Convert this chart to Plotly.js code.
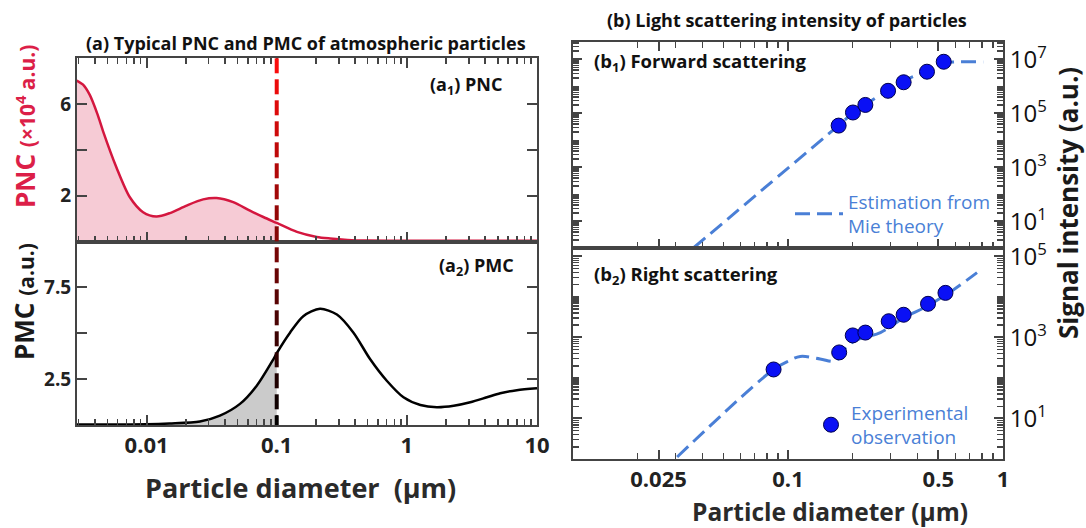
<!DOCTYPE html>
<html>
<head>
<meta charset="utf-8">
<script src="https://cdn.plot.ly/plotly-3.0.1.min.js"></script>
<style>html,body{margin:0;padding:0;background:#fff}#chart{width:1086px;height:528px}</style>
</head>
<body>
<div id="chart"></div>
<script>
// ---------- Data: (a) typical PNC and PMC ----------
const pncDiameter = [0.0029, 0.00325, 0.00366, 0.0042, 0.00464, 0.00588, 0.00744, 0.0094, 0.0119, 0.0151, 0.0203, 0.0272, 0.0345, 0.0463, 0.0623, 0.0789, 0.1, 0.143, 0.203, 0.257, 0.35, 0.5, 1, 2, 5, 10];
const pncValue    = [7.03, 6.85, 6.40, 5.55, 4.80, 3.22, 1.93, 1.28, 1.09, 1.24, 1.57, 1.84, 1.90, 1.72, 1.35, 1.07, 0.81, 0.42, 0.20, 0.13, 0.07, 0.04, 0.03, 0.03, 0.03, 0.03];
const pmcDiameter = [0.0029, 0.005, 0.01, 0.015, 0.0257, 0.0366, 0.0522, 0.0702, 0.0942, 0.1, 0.1265, 0.16, 0.215, 0.29, 0.389, 0.523, 0.701, 0.942, 1.27, 1.70, 2.29, 3.07, 4.12, 5.22, 7.0, 10];
const pmcValue    = [0.03, 0.03, 0.04, 0.08, 0.19, 0.51, 1.15, 2.14, 3.58, 3.91, 5.03, 5.93, 6.33, 6.02, 5.03, 3.58, 2.41, 1.51, 1.09, 0.97, 1.05, 1.24, 1.51, 1.73, 1.90, 2.00];
const cutoffDiameter = 0.1;

// ---------- Data: (b) light scattering intensity ----------
const mieFwdDiameter  = [0.0364, 0.1, 0.17, 0.2, 0.23, 0.29, 0.345, 0.44, 0.53, 0.6, 0.81];
const mieFwdIntensity = [1.05, 933, 3.3e4, 1.0e5, 2.14e5, 7.08e5, 1.58e6, 3.63e6, 7.08e6, 7.94e6, 7.94e6];
const obsFwdDiameter  = [0.172, 0.2005, 0.229, 0.292, 0.345, 0.443, 0.530];
const obsFwdIntensity = [3.5e4, 1.07e5, 2.04e5, 6.8e5, 1.41e6, 3.47e6, 8.1e6];
const mieRightDiameter  = [0.0305, 0.0857, 0.1007, 0.114, 0.141, 0.166, 0.188, 0.209, 0.269, 0.345, 0.443, 0.589, 0.757];
const mieRightIntensity = [1.12, 162, 263, 339, 295, 263, 603, 871, 1318, 3020, 5890, 1.51e4, 3.98e4];
const obsRightDiameter  = [0.0857, 0.173, 0.2, 0.229, 0.294, 0.345, 0.448, 0.540];
const obsRightIntensity = [162, 427, 1122, 1318, 2512, 3631, 6761, 12589];

// ---------- Tick labels ----------
const aTickVals = [0.01, 0.1, 1, 10];
const aTickText = ['0.01', '0.1', '1', '10'];
const bTickVals = [0.025, 0.1, 0.5, 1];
const bTickText = ['0.025', '0.1', '0.5', '1'];
const pncTickVals = [2, 6];
const pncTickText = ['2', '6'];
const pncMidTick = [4];
const pmcTickVals = [2.5, 7.5];
const pmcTickText = ['2.5', '7.5'];
const pmcMidTick = [5];
const sigTickVals1 = [10, 1e3, 1e5, 1e7];
const sigTickText1 = ['10<sup>1</sup>', '10<sup>3</sup>', '10<sup>5</sup>', '10<sup>7</sup>'];
const sigTickVals2 = [10, 1e3, 1e5];
const sigTickText2 = ['10<sup>1</sup>', '10<sup>3</sup>', '10<sup>5</sup>'];

// ---------- helpers ----------
function logMinor(e0, e1, skip) {
  const out = [];
  for (let e = e0; e <= e1; e++) for (let m = 1; m <= 9; m++) {
    const v = +(m * Math.pow(10, e)).toPrecision(6);
    if (!skip.some(s => Math.abs(s - v) / v < 1e-6)) out.push(v);
  }
  return out;
}
const FONT = '"Open Sans", Lato, "DejaVu Sans", sans-serif';
const AX = '#444444';
const blue = '#4a7fd6';
const keep = xs => xs.map(x => x <= cutoffDiameter + 1e-12);
const fillX = xs => xs.filter((x, i) => keep(xs)[i]);
const fillY = (xs, ys) => ys.filter((y, i) => keep(xs)[i]);

const traces = [
  {x: fillX(pncDiameter), y: fillY(pncDiameter, pncValue), xaxis: 'x', yaxis: 'y', type: 'scatter', mode: 'lines',
   line: {width: 0, shape: 'spline', smoothing: 0.8}, fill: 'tozeroy', fillcolor: '#f6cbd5', showlegend: false, hoverinfo: 'skip'},
  {x: pncDiameter, y: pncValue, xaxis: 'x', yaxis: 'y', type: 'scatter', mode: 'lines',
   line: {color: '#d4173f', width: 2.5, shape: 'spline', smoothing: 0.8}, showlegend: false, name: 'PNC'},
  {x: fillX(pmcDiameter), y: fillY(pmcDiameter, pmcValue), xaxis: 'x2', yaxis: 'y2', type: 'scatter', mode: 'lines',
   line: {width: 0, shape: 'spline', smoothing: 0.8}, fill: 'tozeroy', fillcolor: '#cbcbcb', showlegend: false, hoverinfo: 'skip'},
  {x: pmcDiameter, y: pmcValue, xaxis: 'x2', yaxis: 'y2', type: 'scatter', mode: 'lines',
   line: {color: '#000000', width: 2.5, shape: 'spline', smoothing: 0.8}, showlegend: false, name: 'PMC'},
  {x: mieFwdDiameter, y: mieFwdIntensity, xaxis: 'x3', yaxis: 'y3', type: 'scatter', mode: 'lines',
   line: {color: blue, width: 3, dash: '15px,7px', shape: 'spline'}, name: 'Estimation from<br>Mie theory', legend: 'legend', showlegend: true},
  {x: obsFwdDiameter, y: obsFwdIntensity, xaxis: 'x3', yaxis: 'y3', type: 'scatter', mode: 'markers',
   marker: {size: 15, color: '#0a10f5', line: {color: '#00004d', width: 1}}, showlegend: false, name: 'Experimental observation'},
  {x: mieRightDiameter, y: mieRightIntensity, xaxis: 'x4', yaxis: 'y4', type: 'scatter', mode: 'lines',
   line: {color: blue, width: 3, dash: '15px,7px', shape: 'spline'}, showlegend: false, name: 'Estimation from Mie theory'},
  {x: obsRightDiameter, y: obsRightIntensity, xaxis: 'x4', yaxis: 'y4', type: 'scatter', mode: 'markers',
   marker: {size: 15, color: '#0a10f5', line: {color: '#00004d', width: 1}}, name: 'Experimental<br>observation', legend: 'legend2', showlegend: true}
];

const W = 1086, H = 528;
const px = v => v / W, py = v => 1 - v / H;
const base = {showline: true, linecolor: AX, linewidth: 2, ticks: 'inside', ticklen: 10, tickwidth: 2, tickcolor: AX,
  showgrid: false, zeroline: false, tickfont: {family: FONT, size: 20, color: '#222', weight: 'bold'}};
const minorStyle = {ticks: 'inside', ticklen: 6, tickwidth: 1.5, tickcolor: AX};
const aRange = [Math.log10(0.00292), 1];
const aDom = [px(77), px(537)];
const bDom = [px(573), px(1003)];
const lab = (size, extra) => Object.assign({family: FONT, size: size, color: '#111', weight: 'bold'}, extra || {});

const layout = {
  width: W, height: H, margin: {l: 0, r: 0, t: 0, b: 0}, paper_bgcolor: '#fff', plot_bgcolor: '#fff',
  font: {family: FONT, color: '#222'},
  xaxis: Object.assign({}, base, {type: 'log', range: aRange, domain: aDom, anchor: 'y', mirror: 'allticks',
    tickmode: 'array', tickvals: aTickVals, ticktext: aTickText, showticklabels: false,
    minor: Object.assign({tickvals: logMinor(-3, 0, aTickVals)}, minorStyle)}),
  yaxis: Object.assign({}, base, {range: [0, 8], domain: [py(241.5), py(58.3)], anchor: 'x', mirror: 'allticks',
    tickmode: 'array', tickvals: pncTickVals, ticktext: pncTickText, tickfont: lab(19, {color: '#222'}),
    minor: {tickvals: pncMidTick, ticks: 'inside', ticklen: 10, tickwidth: 2, tickcolor: AX}}),
  xaxis2: Object.assign({}, base, {type: 'log', range: aRange, domain: aDom, anchor: 'y2', mirror: true,
    tickmode: 'array', tickvals: aTickVals, ticktext: aTickText, tickfont: lab(22, {color: '#222'}),
    minor: Object.assign({tickvals: logMinor(-3, 0, aTickVals)}, minorStyle)}),
  yaxis2: Object.assign({}, base, {range: [0, 10], domain: [py(425), py(241.5)], anchor: 'x2', mirror: 'allticks',
    tickmode: 'array', tickvals: pmcTickVals, ticktext: pmcTickText, tickfont: lab(19, {color: '#222'}),
    minor: {tickvals: pmcMidTick, ticks: 'inside', ticklen: 10, tickwidth: 2, tickcolor: AX}}),
  xaxis3: Object.assign({}, base, {type: 'log', range: [-2, 0], domain: bDom, anchor: 'y3', mirror: 'allticks', ticklen: 9,
    tickmode: 'array', tickvals: bTickVals, ticktext: bTickText, showticklabels: false,
    minor: Object.assign({tickvals: logMinor(-2, -1, bTickVals)}, minorStyle)}),
  yaxis3: Object.assign({}, base, {type: 'log', range: [0, 7.64], domain: [py(248.3), py(42)], anchor: 'x3', side: 'right', mirror: 'allticks', ticklen: 9,
    tickmode: 'array', tickvals: sigTickVals1, ticktext: sigTickText1, tickfont: {family: FONT, size: 24, color: '#111'},
    minor: Object.assign({tickvals: logMinor(0, 7, sigTickVals1)}, minorStyle)}),
  xaxis4: Object.assign({}, base, {type: 'log', range: [-2, 0], domain: bDom, anchor: 'y4', mirror: true, ticklen: 9,
    tickmode: 'array', tickvals: bTickVals, ticktext: bTickText, tickfont: lab(22, {color: '#222'}),
    minor: Object.assign({tickvals: logMinor(-2, -1, bTickVals)}, minorStyle)}),
  yaxis4: Object.assign({}, base, {type: 'log', range: [0, 5.2], domain: [py(459), py(248.3)], anchor: 'x4', side: 'right', mirror: 'allticks', ticklen: 9,
    tickmode: 'array', tickvals: sigTickVals2, ticktext: sigTickText2, tickfont: {family: FONT, size: 24, color: '#111'},
    minor: Object.assign({tickvals: logMinor(0, 5, sigTickVals2)}, minorStyle)}),
  legend: {x: px(790), y: py(214), xanchor: 'left', yanchor: 'middle', bgcolor: 'rgba(0,0,0,0)', borderwidth: 0,
    font: {family: FONT, size: 19, color: blue}, itemwidth: 48},
  legend2: {x: px(811), y: py(425), xanchor: 'left', yanchor: 'middle', bgcolor: 'rgba(0,0,0,0)', borderwidth: 0,
    font: {family: FONT, size: 19, color: blue}, itemwidth: 30},
  annotations: [
    {text: '(a) Typical PNC and PMC of atmospheric particles', xref: 'paper', yref: 'paper', x: px(306), y: py(43), showarrow: false,
     xanchor: 'center', yanchor: 'middle', font: lab(18)},
    {text: '(b) Light scattering intensity of particles', xref: 'paper', yref: 'paper', x: px(787), y: py(20), showarrow: false,
     xanchor: 'center', yanchor: 'middle', font: lab(18)},
    {text: '(a<sub>1</sub>) PNC', xref: 'paper', yref: 'paper', x: px(504), y: py(85), showarrow: false,
     xanchor: 'right', yanchor: 'middle', font: lab(18)},
    {text: '(a<sub>2</sub>) PMC', xref: 'paper', yref: 'paper', x: px(516), y: py(266), showarrow: false,
     xanchor: 'right', yanchor: 'middle', font: lab(18)},
    {text: '(b<sub>1</sub>) Forward scattering', xref: 'paper', yref: 'paper', x: px(592), y: py(62), showarrow: false,
     xanchor: 'left', yanchor: 'middle', font: lab(18.5)},
    {text: '(b<sub>2</sub>) Right scattering', xref: 'paper', yref: 'paper', x: px(592), y: py(275), showarrow: false,
     xanchor: 'left', yanchor: 'middle', font: lab(18.5)},
    {text: 'Particle diameter\u00a0\u00a0(μm)', xref: 'paper', yref: 'paper', x: px(300), y: py(487), showarrow: false,
     xanchor: 'center', yanchor: 'middle', font: lab(27, {color: '#2a2a2a'})},
    {text: 'Particle diameter (μm)', xref: 'paper', yref: 'paper', x: px(830), y: py(511), showarrow: false,
     xanchor: 'center', yanchor: 'middle', font: lab(24.5, {color: '#2a2a2a'})},
    {text: 'PNC <span style="font-size:21px">(×10<sup>4</sup> a.u.)</span>', xref: 'paper', yref: 'paper', x: px(25), y: py(127), showarrow: false,
     textangle: -90, xanchor: 'center', yanchor: 'middle', font: lab(26, {color: '#dc1f48'})},
    {text: 'PMC <span style="font-size:21px">(a.u.)</span>', xref: 'paper', yref: 'paper', x: px(24), y: py(302), showarrow: false,
     textangle: -90, xanchor: 'center', yanchor: 'middle', font: lab(26, {color: '#1a1a1a'})},
    {text: 'Signal intensity (a.u.)', xref: 'paper', yref: 'paper', x: px(1068), y: py(203), showarrow: false,
     textangle: -90, xanchor: 'center', yanchor: 'middle', font: lab(26, {color: '#1a1a1a'})}
  ],
  shapes: []
};

// gradient dashed cutoff line at d = cutoffDiameter (red at top to black at bottom), drawn dash by dash
(function () {
  const top = 58.3, bottom = 425, dashLen = 15, period = 21;
  for (let y0 = top; y0 < bottom; y0 += period) {
    const y1 = Math.min(y0 + dashLen, bottom);
    const t = ((y0 + y1) / 2 - top) / (bottom - top);
    const r = Math.round(255 * (1 - t));
    const g = Math.round(12 * (1 - t));
    layout.shapes.push({type: 'line', xref: 'x', yref: 'paper', x0: cutoffDiameter, x1: cutoffDiameter,
      y0: py(y0), y1: py(y1), line: {color: `rgb(${r},${g},${g})`, width: 4}});
  }
})();

Plotly.newPlot('chart', traces, layout, {displayModeBar: false, staticPlot: true});
</script>
</body>
</html>
